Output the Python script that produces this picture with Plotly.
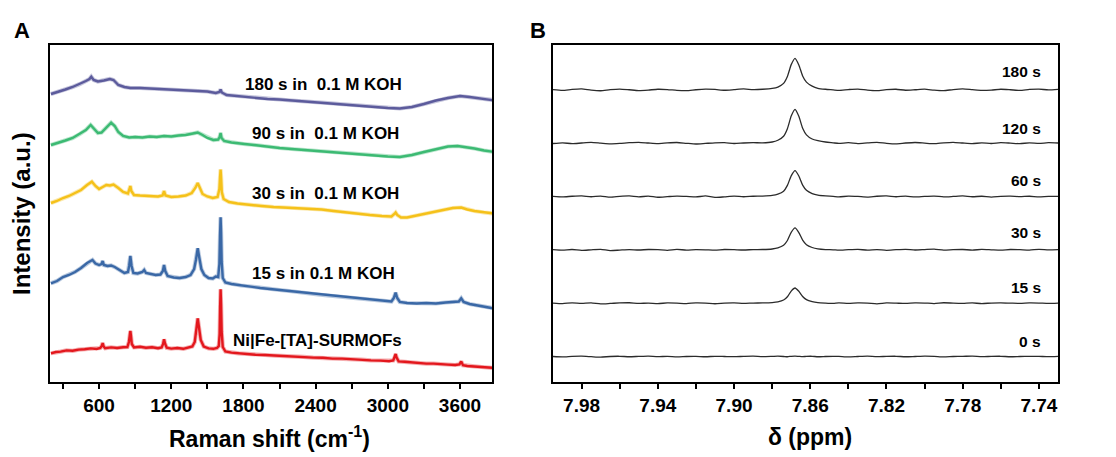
import plotly.graph_objects as go

# ---------------- Panel A: Raman spectra (cm^-1 vs intensity, a.u.) ----------------
raman_names = ["Ni|Fe-[TA]-SURMOFs", "15 s in 0.1 M KOH", "30 s in\u00a0 0.1 M KOH",
               "90 s in\u00a0 0.1 M KOH", "180 s in\u00a0 0.1 M KOH"]

red_x = [200, 240, 280, 330, 380, 430, 480, 530, 580, 610, 622, 630, 638, 650, 700, 750, 800, 835,
         848, 855, 860, 865, 872, 890, 940, 990, 1040, 1090, 1120, 1132, 1140, 1148, 1162, 1200,
         1250, 1300, 1340, 1375, 1395, 1410, 1420, 1430, 1445, 1470, 1510, 1550, 1580, 1595, 1602,
         1606, 1610, 1614, 1619, 1628, 1650, 1700, 1760, 1830, 1900, 1980, 2060, 2140, 2220, 2300,
         2380, 2460, 2540, 2620, 2700, 2780, 2860, 2940, 3010, 3045, 3058, 3065, 3073, 3090, 3140,
         3200, 3260, 3320, 3380, 3440, 3500, 3560, 3595, 3610, 3625, 3660, 3720, 3780, 3840, 3900,
         3960, 4000]
red_y = [28.7, 30.0, 30.4, 31.6, 31.2, 32.4, 32.8, 33.6, 33.0, 34.0, 36.0, 39.0, 35.5, 33.8, 34.6,
         34.0, 34.8, 35.0, 40.0, 47.0, 51.0, 46.0, 38.0, 34.6, 35.2, 34.2, 34.8, 33.8, 34.6, 38.0,
         42.7, 38.5, 34.2, 33.4, 34.0, 33.2, 34.2, 35.5, 40.0, 52.0, 63.7, 55.0, 42.0, 35.5, 33.6,
         33.2, 34.0, 36.0, 48.0, 75.0, 92.7, 78.0, 50.0, 35.0, 30.5, 29.4, 28.6, 28.2, 27.2, 27.0,
         26.4, 26.2, 25.4, 25.2, 24.4, 24.2, 23.4, 23.4, 22.6, 22.4, 21.6, 21.4, 20.8, 21.5, 25.0,
         28.0, 24.5, 20.6, 20.2, 19.4, 19.2, 18.4, 18.4, 17.6, 17.4, 17.0, 17.6, 20.5, 16.8, 16.0,
         15.6, 15.0, 14.4, 14.0, 13.0, 12.7]

blue_x = [200, 250, 300, 350, 400, 450, 500, 530, 545, 570, 600, 620, 630, 640, 670, 700, 730, 770,
          810, 840, 850, 860, 870, 885, 920, 960, 975, 990, 1030, 1070, 1110, 1130, 1140, 1150, 1170,
          1220, 1270, 1320, 1360, 1390, 1405, 1420, 1432, 1450, 1475, 1510, 1545, 1570, 1590, 1600,
          1605, 1610, 1614, 1619, 1628, 1650, 1700, 1780, 1860, 1940, 2020, 2100, 2180, 2260, 2340,
          2420, 2500, 2580, 2660, 2740, 2820, 2900, 2980, 3030, 3050, 3065, 3078, 3100, 3160, 3240,
          3320, 3400, 3480, 3540, 3590, 3610, 3630, 3680, 3740, 3800, 3860, 3920, 4000]
blue_y = [28.7, 31.0, 35.0, 37.0, 40.0, 44.0, 49.0, 51.0, 52.0, 48.5, 47.0, 48.0, 51.0, 47.0, 46.0,
          46.5, 45.0, 42.0, 39.0, 40.0, 46.0, 56.0, 46.0, 39.0, 38.5, 40.0, 42.0, 39.0, 38.0, 37.0,
          37.5, 41.0, 47.0, 41.0, 36.0, 34.5, 34.0, 35.0, 37.0, 43.0, 52.0, 63.7, 55.0, 43.0, 37.0,
          34.0, 33.5, 35.5, 35.0, 48.0, 75.0, 94.7, 80.0, 50.0, 34.0, 29.5, 28.0, 26.5, 25.5, 24.0,
          23.0, 22.0, 21.0, 19.5, 18.5, 17.5, 16.5, 15.5, 14.5, 13.5, 12.5, 11.5, 10.5, 10.5, 14.0,
          19.3, 14.0, 10.0, 9.0, 8.5, 9.0, 8.5, 9.5, 10.0, 10.5, 13.7, 10.0, 8.0, 6.5, 5.5, 4.0,
          3.0, 1.3]

yellow_x = [200, 250, 300, 350, 400, 450, 500, 540, 570, 600, 630, 660, 690, 720, 760, 800, 840, 852,
            860, 868, 890, 940, 990, 1040, 1090, 1128, 1140, 1152, 1200, 1260, 1320, 1370, 1400, 1420,
            1435, 1460, 1500, 1545, 1585, 1600, 1605, 1610, 1615, 1620, 1635, 1680, 1750, 1850, 1950,
            2050, 2150, 2250, 2350, 2450, 2550, 2650, 2750, 2850, 2950, 3030, 3055, 3065, 3078, 3110,
            3160, 3220, 3300, 3380, 3460, 3540, 3610, 3660, 3720, 3800, 3880, 3940, 4000]
yellow_y = [29.0, 31.0, 34.0, 36.0, 39.0, 42.0, 47.0, 50.3, 46.0, 43.0, 45.0, 47.0, 46.5, 47.5, 44.0,
            40.0, 38.5, 42.0, 46.0, 41.0, 37.0, 36.5, 36.0, 35.5, 35.5, 36.5, 41.0, 36.5, 35.0, 35.5,
            36.5, 39.0, 44.0, 49.0, 45.0, 38.0, 35.5, 34.0, 35.0, 43.0, 54.0, 62.5, 53.0, 40.0, 33.0,
            30.0, 28.5, 27.0, 26.0, 25.0, 24.5, 24.0, 23.0, 22.5, 21.0, 19.5, 18.5, 17.0, 16.0, 15.5,
            18.0, 19.5, 17.0, 14.5, 14.5, 16.0, 18.5, 20.5, 22.5, 24.0, 24.5, 22.5, 21.0, 19.5, 18.5,
            17.5, 17.0]

green_x = [200, 260, 320, 380, 440, 490, 530, 560, 590, 620, 660, 700, 730, 760, 800, 850, 900, 960,
           1020, 1080, 1140, 1200, 1260, 1320, 1380, 1420, 1460, 1500, 1550, 1590, 1602, 1610, 1618,
           1640, 1700, 1800, 1900, 2000, 2100, 2200, 2300, 2400, 2500, 2600, 2700, 2800, 2900, 3000,
           3100, 3200, 3300, 3400, 3500, 3580, 3650, 3720, 3800, 3880, 3940, 4000]
green_y = [27.0, 29.0, 31.5, 34.0, 38.0, 42.0, 47.0, 43.0, 39.0, 39.5, 44.0, 49.3, 46.0, 40.0, 36.0,
           34.5, 35.0, 34.5, 35.5, 35.0, 36.0, 35.5, 36.5, 37.0, 38.5, 39.5, 37.0, 34.0, 32.0, 32.5,
           35.0, 39.0, 34.0, 31.0, 29.5, 28.0, 27.0, 25.0, 24.0, 23.0, 22.0, 21.0, 20.0, 19.0, 18.0,
           17.0, 16.0, 15.5, 15.0, 17.0, 20.0, 23.0, 25.5, 26.0, 25.0, 23.5, 21.5, 20.0, 19.0, 18.0]

purple_x = [200, 260, 320, 380, 440, 490, 520, 535, 555, 590, 640, 690, 720, 760, 810, 860, 940, 1020,
            1100, 1180, 1260, 1340, 1420, 1500, 1570, 1600, 1610, 1620, 1660, 1740, 1820, 1900, 2000,
            2100, 2200, 2300, 2400, 2500, 2600, 2700, 2800, 2900, 3000, 3100, 3200, 3300, 3400, 3500,
            3600, 3680, 3760, 3840, 3920, 4000]
purple_y = [28.0, 30.0, 32.5, 35.0, 38.0, 41.0, 43.0, 45.3, 42.0, 40.5, 41.5, 43.0, 42.0, 37.0, 35.0,
            34.0, 34.0, 33.5, 33.5, 33.0, 32.5, 32.0, 31.5, 30.5, 29.0, 30.0, 32.5, 29.5, 27.0, 26.0,
            25.0, 24.0, 23.0, 22.5, 21.5, 21.0, 20.0, 19.0, 18.0, 17.0, 16.0, 15.0, 14.0, 13.5, 15.0,
            18.0, 21.5, 24.0, 26.0, 25.0, 23.5, 22.0, 21.0, 20.3]

raman_x = [red_x, blue_x, yellow_x, green_x, purple_x]
raman_y = [red_y, blue_y, yellow_y, green_y, purple_y]
raman_offsets = [0, 70, 150, 210, 260]
raman_colors = ["#e3171d", "#3a68a6", "#f5c11a", "#3cba73", "#5c5b9c"]

# ---------------- Panel B: 1H NMR, delta (ppm) ----------------
nmr_names = ["0 s", "15 s", "30 s", "60 s", "120 s", "180 s"]
nmr_x = [7.995, 7.990, 7.985, 7.980, 7.975, 7.970, 7.965, 7.960, 7.955, 7.950, 7.945, 7.940, 7.935,
         7.930, 7.925, 7.920, 7.915, 7.910, 7.905, 7.900, 7.895, 7.890, 7.885, 7.880, 7.877, 7.874,
         7.872, 7.870, 7.868, 7.866, 7.864, 7.862, 7.859, 7.856, 7.852, 7.848, 7.845, 7.840, 7.835,
         7.830, 7.825, 7.820, 7.815, 7.810, 7.805, 7.800, 7.795, 7.790, 7.785, 7.780, 7.775, 7.770,
         7.765, 7.760, 7.755, 7.750, 7.745, 7.740, 7.735, 7.730]
nmr_0 = [0.1, -0.3, 0.2, 0.4, -0.1, -0.6, 0.1, 0.3, -0.2, 0.2, 0.5, -0.1, 0.3, -0.3, 0.1, 0.2, -0.2,
         0.3, 0.1, -0.1, 0.2, 0.4, -0.1, 0.2, 0.4, 0.1, -0.2, 0.3, 0.5, 0.2, -0.1, 0.2, 0.3, -0.2,
         0.1, 0.3, 0.2, -0.3, 0.1, 0.4, -0.1, 0.2, 0.3, -0.2, 0.1, 0.4, 0.2, -0.3, 0.1, 0.2, 0.5,
         -0.1, 0.2, 0.3, -0.2, 0.1, 0.3, 0.2, -0.1, 0.2]
nmr_15 = [0.2, -0.3, 0.3, -0.1, 0.4, -0.6, -0.2, 0.3, 0.5, -0.2, 0.2, -0.4, 0.3, 0.1, -0.3, 0.4,
          0.2, -0.5, 0.1, 0.3, -0.1, 0.2, 0.3, 0.7, 1.4, 3.2, 6.5, 12.2, 15.3, 12.0, 6.8, 3.6, 1.6,
          0.6, 0.1, -0.2, 0.3, -0.1, 0.4, 0.2, -0.6, 0.3, 0.1, -0.2, 0.4, 0.2, -0.3, 0.5, 0.1, -0.1,
          0.3, -0.4, 0.2, 0.4, 0.1, -0.2, 0.3, 0.2, -0.1, 0.2]
nmr_30 = [0.3, -0.2, 0.4, -0.5, 0.1, 0.6, -0.7, -0.2, 0.3, -0.1, 0.4, 0.2, -0.4, 0.5, -0.2, 0.3,
          0.1, -0.3, 0.4, 0.2, -0.1, 0.3, 0.4, 0.9, 2.0, 4.6, 9.4, 17.6, 22.0, 17.4, 9.8, 5.2, 2.4,
          1.0, 0.3, 0.1, -0.3, 0.2, 0.5, -0.2, 0.3, -0.4, 0.2, 0.6, -0.1, 0.3, 0.7, -0.3, 0.2, 0.4,
          -0.2, 0.5, 0.1, -0.3, 0.4, 0.2, -0.2, 0.6, 0.1, 0.3]
nmr_60 = [0.1, -0.4, 0.3, 0.7, -0.2, 0.5, -0.6, 0.2, 0.6, -0.3, 0.4, -0.7, -0.1, 0.5, 0.2, -0.4,
          0.6, -0.9, -0.3, 0.4, -0.2, 0.3, 0.5, 1.1, 2.4, 5.4, 11.2, 20.8, 26.0, 20.6, 11.5, 6.3,
          3.0, 1.4, 0.6, 0.2, -0.3, 0.4, 0.1, -0.5, 0.3, 0.6, -0.2, 0.4, -0.4, 0.2, 0.5, -0.3, 0.1,
          0.6, -0.2, 0.3, -0.5, 0.2, 0.4, -0.1, 0.3, -0.4, 0.2, 0.1]
nmr_120 = [-0.3, 0.4, -0.5, 0.2, 0.8, 0.1, -0.6, -0.2, 0.5, 0.9, 0.2, -0.4, 0.3, 0.7, -0.1, -0.8,
           -0.2, 0.4, 0.6, -0.3, 0.2, 0.5, 0.4, 1.2, 3.0, 7.0, 14.5, 27.2, 34.0, 27.0, 15.0, 8.4,
           4.2, 2.6, 1.2, 0.4, -0.2, 0.5, -0.4, 0.3, 0.8, -0.1, -0.6, 0.2, 0.7, 0.1, -0.5, 0.4, 0.9,
           0.2, -0.4, 0.3, -0.3, 0.6, 0.1, -0.5, 0.4, -0.2, 0.5, 0.2]
nmr_180 = [0.2, -0.6, 0.4, 0.9, -0.3, -0.9, 0.2, 0.8, 0.1, -0.7, -0.2, 0.6, 0.3, -0.5, -0.8, 0.1,
           0.7, 0.4, -0.4, 0.2, 0.9, 0.3, 0.6, 1.4, 2.8, 6.5, 13.5, 25.3, 31.6, 25.0, 14.0, 7.8,
           3.8, 1.6, 0.6, 0.0, -0.5, 0.3, 0.8, -0.2, -0.7, 0.2, 0.6, -0.4, 0.1, 0.7, -0.3, -0.8,
           0.3, 0.9, 0.2, -0.5, -0.2, 0.6, 0.1, -0.6, 0.4, 0.8, -0.1, 0.5]
nmr_y = [nmr_0, nmr_15, nmr_30, nmr_60, nmr_120, nmr_180]
nmr_base = 25.5
nmr_step = 53.5

W, H = 1116, 457
FONT = "Liberation Sans, Arial, sans-serif"

fig = go.Figure()

for name, xs, ys, off, col in zip(raman_names, raman_x, raman_y, raman_offsets, raman_colors):
    yy = [v + off for v in ys]
    # soft wide underlay gives the noisy spectra their fuzzy edge
    fig.add_trace(go.Scatter(x=xs, y=yy, mode="lines", line=dict(color=col, width=4.2),
                             opacity=0.35, xaxis="x", yaxis="y", showlegend=False,
                             hoverinfo="skip"))
    fig.add_trace(go.Scatter(x=xs, y=yy, mode="lines", name=name,
                             line=dict(color=col, width=2.4), xaxis="x", yaxis="y",
                             showlegend=False))

for i, (name, ys) in enumerate(zip(nmr_names, nmr_y)):
    off = nmr_base + i * nmr_step
    fig.add_trace(go.Scatter(x=nmr_x, y=[v + off for v in ys], mode="lines", name=name,
                             line=dict(color="#2b2b2b", width=1.3, shape="spline", smoothing=0.6),
                             xaxis="x2", yaxis="y2", showlegend=False))

def px(p):
    return p / W

def py(p):
    return 1 - p / H

box = dict(showline=True, mirror=True, linecolor="black", linewidth=1.6,
           showgrid=False, zeroline=False)
tickfont = dict(family=FONT, size=19, color="black", weight="bold")

fig.update_layout(
    width=W, height=H,
    margin=dict(l=0, r=0, t=0, b=0),
    paper_bgcolor="white", plot_bgcolor="white",
    font=dict(family=FONT, color="black"),
    xaxis=dict(domain=[px(50), px(492)], range=[192, 3866], tick0=0, dtick=600,
               ticks="outside", ticklen=5, tickwidth=1.5, tickcolor="black",
               minor=dict(tick0=0, dtick=300, ticks="outside", ticklen=5, tickwidth=1.5,
                          tickcolor="black"),
               tickfont=tickfont, anchor="y", **box),
    yaxis=dict(domain=[py(382), py(45)], range=[0, 337], showticklabels=False, ticks="",
               anchor="x", **box),
    xaxis2=dict(domain=[px(553), px(1058)], range=[7.995, 7.73], tick0=7.74, dtick=0.04,
                tickformat=".2f", ticks="outside", ticklen=5, tickwidth=1.5, tickcolor="black",
                minor=dict(tick0=7.74, dtick=0.02, ticks="outside", ticklen=5, tickwidth=1.5,
                           tickcolor="black"),
                tickfont=tickfont, anchor="y2", **box),
    yaxis2=dict(domain=[py(382), py(45)], range=[0, 338], showticklabels=False, ticks="",
                anchor="x2", **box),
)

bold = dict(family=FONT, color="black", weight="bold")
annotations = [
    dict(text="A", x=px(22), y=py(31), font=dict(size=22, **bold)),
    dict(text="B", x=px(538), y=py(31), font=dict(size=22, **bold)),
    dict(text="Raman shift (cm<sup>-1</sup>)", x=px(269), y=py(437), font=dict(size=23, **bold)),
    dict(text="\u03b4 (ppm)", x=px(810), y=py(437), font=dict(size=23, **bold)),
    dict(text="Intensity (a.u.)", x=px(21), y=py(214), textangle=-90, font=dict(size=24, **bold)),
]
raman_label_pos = [(231, 340), (250, 273), (250, 193), (250, 133), (243, 84)]
for name, (lx, ly) in zip(raman_names, raman_label_pos):
    annotations.append(dict(text=name, x=px(lx), y=py(ly), xanchor="left",
                            font=dict(size=17, **bold)))
nmr_label_y = [341, 287, 233, 180, 128, 71]
for name, ly in zip(nmr_names, nmr_label_y):
    annotations.append(dict(text=name, x=px(1043), y=py(ly), xanchor="right",
                            font=dict(size=15.5, **bold)))
for a in annotations:
    a.setdefault("xanchor", "center")
    a.update(xref="paper", yref="paper", yanchor="middle", showarrow=False)
fig.update_layout(annotations=annotations)

fig.write_html("out.html")
